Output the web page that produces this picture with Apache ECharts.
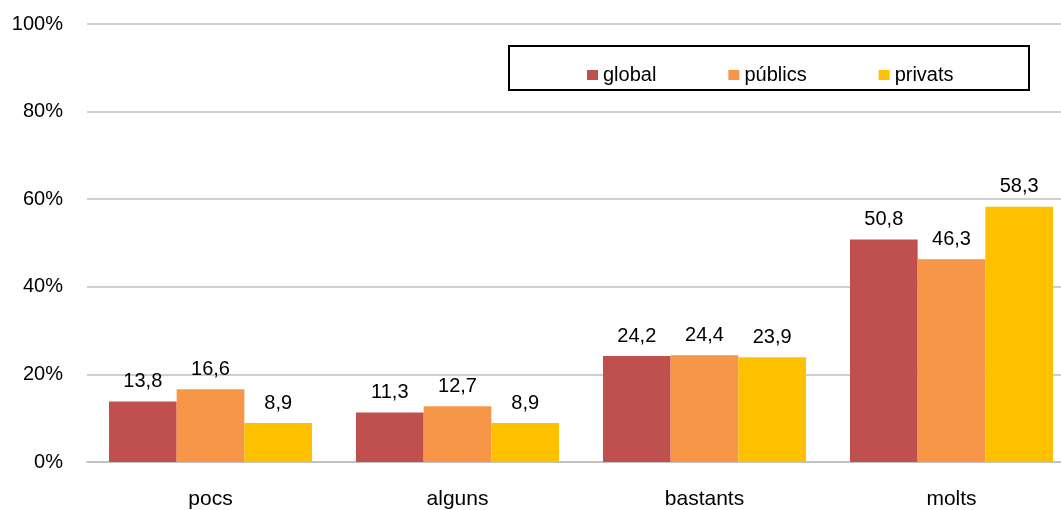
<!DOCTYPE html>
<html><head><meta charset="utf-8">
<script src="https://cdn.jsdelivr.net/npm/echarts@6/dist/echarts.min.js"></script>
<style>html,body{margin:0;padding:0;background:#fff;overflow:hidden;width:1061px;height:510px}#c{width:1075px;height:510px}</style>
</head><body><div id="c"></div>
<script>
const categories = ['pocs', 'alguns', 'bastants', 'molts'];
const seriesNames = ['global', 'públics', 'privats'];
const globalVals = [13.8, 11.3, 24.2, 50.8];
const publicsVals = [16.6, 12.7, 24.4, 46.3];
const privatsVals = [8.9, 8.9, 23.9, 58.3];
const yTicks = [0, 20, 40, 60, 80, 100];
const colors = ['#C0504D', '#F79646', '#FFC000'];
const font = 'Liberation Sans, Arial, sans-serif';

const chart = echarts.init(document.getElementById('c'), null, {renderer: 'canvas'});
const mk = (name, data, i) => ({
  name, type: 'bar', data,
  barGap: '0%', barCategoryGap: '17.8%',
  itemStyle: {color: colors[i]},
  label: {show: true, position: 'top', distance: 10, color: '#000', fontFamily: font, fontSize: 20,
    formatter: p => p.value.toFixed(1).replace('.', ',')}
});
chart.setOption({
  animation: false,
  grid: {left: 87, right: 0, top: 24, bottom: 48, containLabel: false},
  legend: {
    data: seriesNames, left: 582, top: 60, itemWidth: 11, itemHeight: 10, itemGap: 72,
    icon: 'rect', textStyle: {fontFamily: font, fontSize: 20, color: '#000', padding: [0, 0, 0, 0]}
  },
  graphic: [{type: 'rect', shape: {x: 509, y: 46, width: 520, height: 44},
    style: {fill: 'none', stroke: '#000', lineWidth: 2}}],
  xAxis: {type: 'category', data: categories,
    axisLine: {lineStyle: {color: '#BFBFBF', width: 1.5}}, axisTick: {show: false},
    axisLabel: {fontFamily: font, fontSize: 21, color: '#000', margin: 27}},
  yAxis: {type: 'value', min: yTicks[0], max: yTicks[yTicks.length - 1], interval: 20,
    axisLine: {show: false}, axisTick: {show: false},
    splitLine: {lineStyle: {color: '#BFBFBF', width: 1.5}},
    axisLabel: {fontFamily: font, fontSize: 20, color: '#000', margin: 24, formatter: v => v + '%'}},
  series: [mk(seriesNames[0], globalVals, 0), mk(seriesNames[1], publicsVals, 1), mk(seriesNames[2], privatsVals, 2)]
});
</script></body></html>
